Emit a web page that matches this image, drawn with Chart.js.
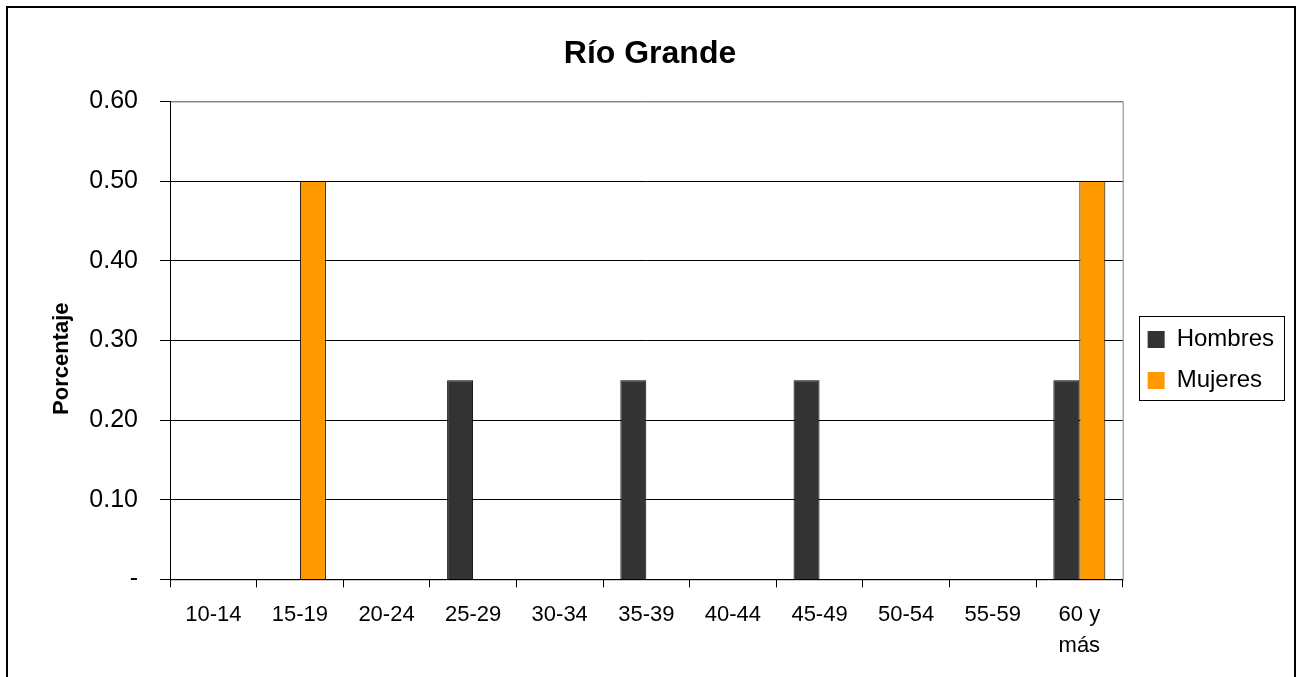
<!DOCTYPE html>
<html>
<head>
<meta charset="utf-8">
<script src="https://cdn.jsdelivr.net/npm/chart.js@4"></script>
<style>
  html, body { margin: 0; padding: 0; background: #fff; overflow: hidden; }
  #wrap { position: relative; width: 1296px; height: 677px; }
  #frame { position: absolute; left: 6px; top: 6px; width: 1286px; height: 700px;
           border: 2px solid #000; pointer-events: none; }
</style>
</head>
<body>
<div id="wrap">
  <canvas id="grafico" width="1296" height="677"></canvas>
  <div id="frame"></div>
</div>
<script>
const edades = ["10-14", "15-19", "20-24", "25-29", "30-34", "35-39", "40-44", "45-49", "50-54", "55-59", ["60 y", "más"]];
const hombres = [0, 0, 0, 0.25, 0, 0.25, 0, 0.25, 0, 0, 0.25];
const mujeres = [0, 0.5, 0, 0, 0, 0, 0, 0, 0, 0, 0.5];
const ticksY = [0, 0.1, 0.2, 0.3, 0.4, 0.5, 0.6];

const fuente = "'Liberation Sans', Arial, sans-serif";

// borde gris del area de trazado y recuadro de la leyenda
const marcos = {
  id: "marcos",
  afterLayout(chart) {
    // separa un poco la leyenda del area de trazado
    const lg = chart.legend;
    const d = chart.chartArea.right + 8 - lg.left;
    lg.left += d;
    lg.right += d;
  },
  beforeDraw(chart) {
    const a = chart.chartArea;
    const ctx = chart.ctx;
    ctx.save();
    ctx.strokeStyle = "#808080";
    ctx.lineWidth = 1;
    ctx.strokeRect(a.left + 0.5, a.top + 0.5, a.right - a.left, a.bottom - a.top);
    ctx.restore();
  },
  afterDraw(chart) {
    const lg = chart.legend;
    const cajas = lg.legendHitBoxes;
    if (!cajas || !cajas.length) return;
    const x0 = lg.left + lg.options.labels.padding;
    let ancho = 0, y0 = Infinity, y1 = -Infinity;
    cajas.forEach((c) => {
      ancho = Math.max(ancho, c.width);
      y0 = Math.min(y0, c.top);
      y1 = Math.max(y1, c.top + c.height);
    });
    const ctx = chart.ctx;
    ctx.save();
    ctx.strokeStyle = "#000";
    ctx.lineWidth = 1;
    ctx.strokeRect(Math.round(x0 - 9) + 0.5, Math.round(y0 - 12) + 0.5,
      Math.round(ancho + 19), Math.round(y1 - y0 + 19));
    ctx.restore();
  },
};

new Chart(document.getElementById("grafico"), {
  type: "bar",
  data: {
    labels: edades,
    datasets: [
      {
        label: "Hombres",
        data: hombres,
        backgroundColor: "#333333",
        borderColor: "#000",
        borderWidth: (c) => (c.raw ? 1 : 0),
      },
      {
        label: "Mujeres",
        data: mujeres,
        backgroundColor: "#FF9900",
        borderColor: "#000",
        borderWidth: (c) => (c.raw ? 1 : 0),
      },
    ],
  },
  options: {
    responsive: false,
    animation: false,
    categoryPercentage: 0.6,
    barPercentage: 1.0,
    layout: { padding: { left: 24, right: 20, top: 0, bottom: 4 } },
    scales: {
      x: {
        offset: true,
        grid: { offset: true, drawOnChartArea: false, drawTicks: true, tickLength: 8, tickColor: "#000" },
        border: { display: true, color: "#000", width: 1 },
        ticks: {
          color: "#000",
          padding: 12,
          maxRotation: 0,
          autoSkip: false,
          font: { family: fuente, size: 22, lineHeight: 1.4 },
        },
      },
      y: {
        min: 0,
        max: 0.6,
        afterBuildTicks: (scale) => {
          scale.ticks = ticksY.map((v) => ({ value: v }));
        },
        afterFit: (scale) => {
          scale.width = 146;
        },
        grid: {
          color: (c) => (c.tick && c.tick.value === 0.6 ? "#808080" : "#000"),
          tickColor: "#000",
          tickLength: 10,
          lineWidth: 1,
        },
        border: { display: true, color: "#000", width: 1 },
        ticks: {
          color: "#000",
          padding: 22,
          font: { family: fuente, size: 25 },
          callback: (v) => (v === 0 ? "-" : Number(v).toFixed(2)),
        },
        title: {
          display: true,
          text: "Porcentaje      ",
          color: "#000",
          padding: { top: 25, bottom: 0 },
          font: { family: fuente, size: 22, weight: "bold" },
        },
      },
    },
    plugins: {
      title: {
        display: true,
        text: "Río Grande",
        color: "#000",
        padding: { top: 35, bottom: 28 },
        font: { family: fuente, size: 32, weight: "bold" },
      },
      legend: {
        display: true,
        position: "right",
        title: { display: true, text: "", padding: { top: 17, bottom: 18 }, font: { size: 10 } },
        labels: {
          color: "#000",
          boxWidth: 17,
          boxHeight: 17,
          padding: 17,
          font: { family: fuente, size: 24 },
        },
      },
      tooltip: { enabled: false },
    },
  },
  plugins: [marcos],
});
</script>
</body>
</html>
